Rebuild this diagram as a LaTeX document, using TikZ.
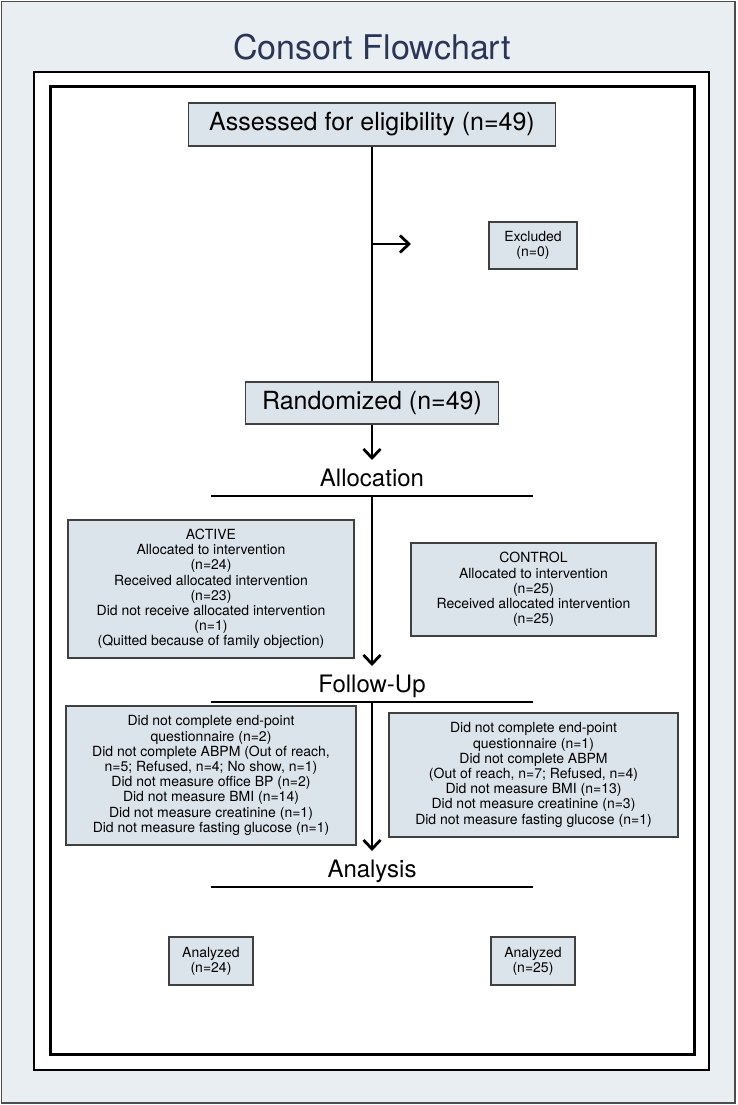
\documentclass[tikz,border=0pt]{standalone}
\usepackage{fontspec}
\setmainfont{TeX Gyre Heros}
\usetikzlibrary{arrows.meta}
\definecolor{pagebg}{HTML}{E9EEF2}
\definecolor{boxfill}{HTML}{DCE4EB}
\definecolor{titleblue}{HTML}{2B3656}

\begin{document}
\begin{tikzpicture}[x=1pt,y=-1pt,
  box/.style={draw=black!75,line width=1.2pt,fill=boxfill,align=center,inner sep=0pt,
    font=\fontsize{14}{15.2}\selectfont},
  bigbox/.style={box,font=\fontsize{25}{30}\selectfont},
  stage/.style={anchor=base,font=\fontsize{24}{28}\selectfont},
  flow/.style={line width=2.8pt},
  arr/.style={flow,-{Straight Barb[length=9pt,width=17pt]}}]
\useasboundingbox (0,0) rectangle (737,1105);
\draw[fill=pagebg,draw=black!70,line width=1.2pt] (1.5,1.5) rectangle (735,1103);
\draw[fill=white,line width=1.2pt] (34,72) rectangle (709,1070);
\draw[line width=3pt] (50,87) rectangle (694,1054);
\node[anchor=base,text=titleblue,font=\fontsize{34}{40}\selectfont] (title) at (372,60) {Consort Flowchart};

\node[bigbox,minimum width=367pt,minimum height=43pt] (assess) at (372,124.5) {Assessed for eligibility (n=49)};
\node[box,minimum width=88pt,minimum height=47pt] (excl) at (533,245.5) {Excluded\\(n=0)};
\node[bigbox,minimum width=253pt,minimum height=42pt] (rand) at (372,403) {Randomized (n=49)};
\coordinate (split) at (372,244);
\coordinate (excltip) at (411,244);
\coordinate (randtip) at (372,460);
\draw[flow] (assess) -- (rand);
\draw[arr] (split) -- (excltip);
\draw[arr] (rand) -- (randtip);

\foreach \name/\y/\txt in {alloc/496/Allocation, follow/702/Follow-Up, analysis/887/Analysis}{
\node[stage] (\name) at (372,\y-9.5) {\txt};
\coordinate (\name-left) at (211,\y);
\coordinate (\name-mid) at (372,\y);
\coordinate (\name-right) at (533,\y);
\coordinate (\name-tip) at (372,\y-36);
\draw[flow] (\name-left) -- (\name-right);
}
\draw[arr] (alloc-mid) -- (follow-tip);
\draw[arr] (follow-mid) -- (analysis-tip);

\node[box,minimum width=286pt,minimum height=138pt] (active) at (211,589) {ACTIVE\\Allocated to intervention\\(n=24)\\Received allocated intervention\\(n=23)\\Did not receive allocated intervention\\(n=1)\\(Quitted because of family objection)};
\node[box,minimum width=245pt,minimum height=93pt] (control) at (533.5,589.5) {CONTROL\\Allocated to intervention\\(n=25)\\Received allocated intervention\\(n=25)};
\node[box,minimum width=290pt,minimum height=139pt] (fuactive) at (211,775.5) {Did not complete end-point\\questionnaire (n=2)\\Did not complete ABPM (Out of reach,\\n=5; Refused, n=4; No show, n=1)\\Did not measure office BP (n=2)\\Did not measure BMI (n=14)\\Did not measure creatinine (n=1)\\Did not measure fasting glucose (n=1)};
\node[box,minimum width=289pt,minimum height=124pt] (fucontrol) at (533.5,775) {Did not complete end-point\\questionnaire (n=1)\\Did not complete ABPM\\(Out of reach, n=7; Refused, n=4)\\Did not measure BMI (n=13)\\Did not measure creatinine (n=3)\\Did not measure fasting glucose (n=1)};
\node[box,minimum width=84pt,minimum height=48pt] (anactive) at (211,961) {Analyzed\\(n=24)};
\node[box,minimum width=84pt,minimum height=48pt] (ancontrol) at (533,961) {Analyzed\\(n=25)};
\end{tikzpicture}
\end{document}
